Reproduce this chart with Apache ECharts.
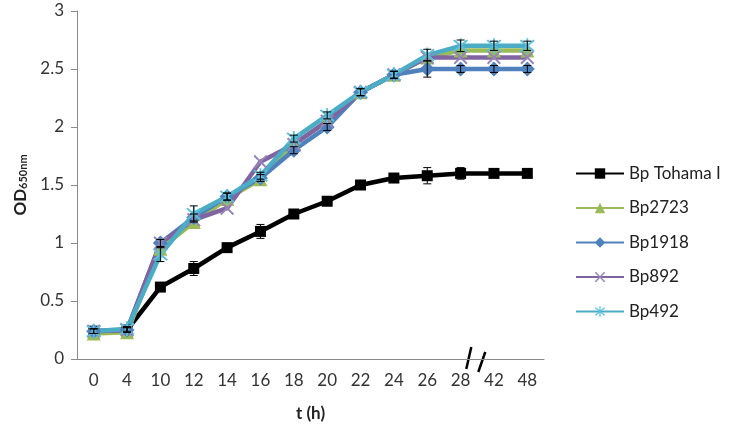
<!DOCTYPE html>
<html>
<head>
<meta charset="utf-8">
<script src="https://cdn.jsdelivr.net/npm/echarts@6/dist/echarts.min.js"></script>
<style>
  html, body { margin: 0; padding: 0; background: #fff; }
  #chart { width: 739px; height: 436px; }
</style>
</head>
<body>
<div id="chart"></div>
<script>
const hours = ['0', '4', '10', '12', '14', '16', '18', '20', '22', '24', '26', '28', '42', '48'];
const yTicks = [0, 0.5, 1, 1.5, 2, 2.5, 3];

const tohama = [0.24, 0.25, 0.62, 0.78, 0.96, 1.10, 1.25, 1.36, 1.50, 1.56, 1.58, 1.60, 1.60, 1.60];
const bp2723 = [0.22, 0.23, 0.95, 1.18, 1.38, 1.55, 1.85, 2.05, 2.30, 2.45, 2.60, 2.66, 2.66, 2.66];
const bp1918 = [0.24, 0.25, 1.00, 1.22, 1.40, 1.56, 1.80, 2.00, 2.30, 2.45, 2.50, 2.50, 2.50, 2.50];
const bp892  = [0.24, 0.25, 1.00, 1.20, 1.30, 1.70, 1.85, 2.05, 2.30, 2.45, 2.60, 2.60, 2.60, 2.60];
const bp492  = [0.24, 0.26, 0.90, 1.25, 1.40, 1.58, 1.90, 2.10, 2.30, 2.45, 2.62, 2.70, 2.70, 2.70];

// error bar half-widths
const errTohama = [0.02, 0.02, 0.03, 0.06, 0.02, 0.06, 0.02, 0.02, 0.02, 0.03, 0.07, 0.05, 0.03, 0.02];
const err1918   = [0.02, 0.02, 0.03, 0.03, 0.03, 0.03, 0.03, 0.03, 0.03, 0.03, 0.07, 0.03, 0.03, 0.03];
const err492    = [0.02, 0.02, 0.06, 0.07, 0.03, 0.03, 0.03, 0.03, 0.03, 0.03, 0.05, 0.05, 0.04, 0.04];

const FONT = 'Lato, "Open Sans", sans-serif';
const xShape = 'path://M1,0 L5,4 L9,0 L10,1 L6,5 L10,9 L9,10 L5,6 L1,10 L0,9 L4,5 L0,1 Z';
const starShape = 'path://M1,0 L5,4 L9,0 L10,1 L6,5 L10,9 L9,10 L5,6 L1,10 L0,9 L4,5 L0,1 Z M4.4,-1 L5.6,-1 L5.6,11 L4.4,11 Z';

function lineSeries(name, data, color, symbol, size, symColor) {
  return {
    name, type: 'line', data, symbol, symbolSize: size,
    lineStyle: { color, width: 4.5 },
    itemStyle: { color: symColor || color },
    emphasis: { disabled: true },
    animation: false
  };
}

function errSeries(values, errs) {
  return {
    type: 'custom',
    z: 5,
    animation: false,
    silent: true,
    data: values.map((v, i) => [i, v, errs[i]]),
    renderItem(params, api) {
      const x = api.coord([api.value(0), 0])[0];
      const top = api.coord([api.value(0), api.value(1) + api.value(2)])[1];
      const bot = api.coord([api.value(0), api.value(1) - api.value(2)])[1];
      const st = { stroke: '#000', lineWidth: 1 };
      return {
        type: 'group',
        children: [
          { type: 'line', shape: { x1: x, y1: top, x2: x, y2: bot }, style: st },
          { type: 'line', shape: { x1: x - 4, y1: top, x2: x + 4, y2: top }, style: st },
          { type: 'line', shape: { x1: x - 4, y1: bot, x2: x + 4, y2: bot }, style: st }
        ]
      };
    }
  };
}

const chart = echarts.init(document.getElementById('chart'));
chart.setOption({
  animation: false,
  textStyle: { fontFamily: FONT },
  grid: { left: 77, right: 195, top: 11, bottom: 77 },
  legend: {
    orient: 'vertical',
    left: 570, top: 160,
    itemWidth: 48, itemHeight: 13, itemGap: 17.5,
    textStyle: { fontSize: 17, color: '#222', fontFamily: FONT },
    data: ['Bp Tohama I', 'Bp2723', 'Bp1918', 'Bp892', 'Bp492']
  },
  xAxis: {
    type: 'category',
    data: hours,
    name: 't (h)',
    nameLocation: 'middle',
    nameGap: 46,
    nameTextStyle: { fontSize: 17, fontWeight: 'bold', color: '#222' },
    axisLine: { lineStyle: { color: '#8a8a8a', width: 1 } },
    axisTick: { length: 5, lineStyle: { color: '#8a8a8a' } },
    axisLabel: { fontSize: 17, color: '#333', margin: 13 }
  },
  yAxis: {
    type: 'value',
    min: yTicks[0], max: yTicks[yTicks.length - 1], interval: 0.5,
    name: '{a|OD}{b|650nm}',
    nameLocation: 'middle',
    nameGap: 46,
    nameTextStyle: {
      rich: {
        a: { fontSize: 17, fontWeight: 'bold', color: '#222', fontFamily: FONT },
        b: { fontSize: 11, fontWeight: 'bold', color: '#222', fontFamily: FONT, padding: [7, 0, 0, 0] }
      }
    },
    axisLine: { show: true, lineStyle: { color: '#8a8a8a', width: 1 } },
    axisTick: { show: true, length: 6, lineStyle: { color: '#8a8a8a' } },
    splitLine: { show: false },
    axisLabel: { fontSize: 17, color: '#333', margin: 13 }
  },
  series: [
    lineSeries('Bp Tohama I', tohama, '#000000', 'rect', 11),
    lineSeries('Bp2723', bp2723, '#9BBB59', 'triangle', 14),
    lineSeries('Bp1918', bp1918, '#4F81BD', 'diamond', 15),
    lineSeries('Bp892', bp892, '#8064A2', xShape, 14, '#9484B8'),
    lineSeries('Bp492', bp492, '#4BACC6', starShape, 15, '#5BC0DA'),
    errSeries(tohama, errTohama),
    errSeries(bp1918, err1918),
    errSeries(bp492, err492)
  ]
});

// axis break marks between 28 and 42
const p28 = chart.convertToPixel({ xAxisIndex: 0 }, '28');
const p42 = chart.convertToPixel({ xAxisIndex: 0 }, '42');
const bx = (p28 + p42) / 2;
const y0 = chart.convertToPixel({ yAxisIndex: 0 }, 0);
const slash = { stroke: '#000', lineWidth: 2.5 };
chart.setOption({
  graphic: [
    { type: 'line', shape: { x1: bx - 11, y1: y0 + 10, x2: bx - 6, y2: y0 - 12 }, style: slash },
    { type: 'line', shape: { x1: bx + 1, y1: y0 + 13, x2: bx + 8, y2: y0 - 7 }, style: slash }
  ]
});
</script>
</body>
</html>
